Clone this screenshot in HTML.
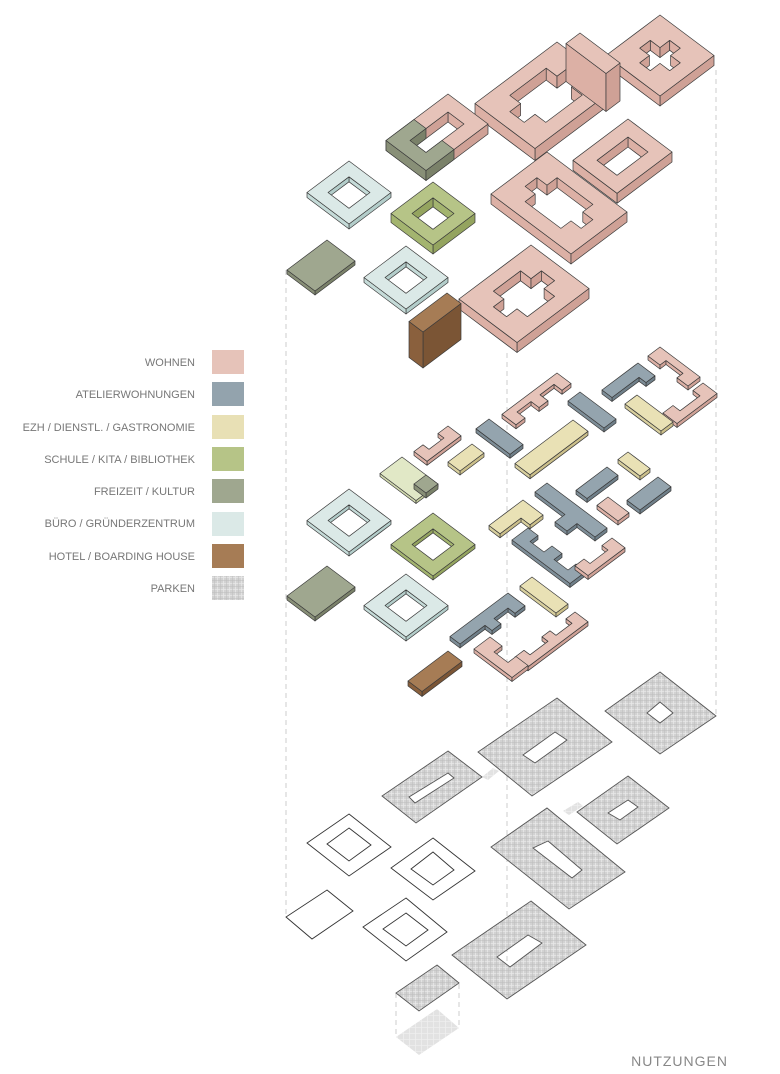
<!DOCTYPE html>
<html><head><meta charset="utf-8"><style>
html,body{margin:0;padding:0;background:#fff;}
svg{display:block;}
text{font-family:"Liberation Sans",sans-serif;}
</style></head><body>
<svg id="s" width="780" height="1074" viewBox="0 0 780 1074" xmlns="http://www.w3.org/2000/svg">
<defs>
<pattern id="pk" width="6" height="6" patternUnits="userSpaceOnUse">
<rect width="6" height="6" fill="#d2d2d2"/>
<path d="M0 1.5H6M1.5 0V6" stroke="#e8e8e8" stroke-width="0.8"/>
<path d="M0 4.5H6M4.5 0V6" stroke="#bdbdbd" stroke-width="0.5"/>
</pattern>
<pattern id="pkl" width="6" height="6" patternUnits="userSpaceOnUse">
<rect width="6" height="6" fill="#e2e2e2"/>
<path d="M0 1.5H6M1.5 0V6" stroke="#efefef" stroke-width="0.8"/>
</pattern>
</defs>
<g stroke="#ccc" stroke-width="1" stroke-dasharray="5,4" fill="none">
<line x1="286" y1="270" x2="286" y2="917"/>
<line x1="507" y1="353" x2="507" y2="1000"/>
<line x1="716" y1="70" x2="716" y2="716"/>
<line x1="396" y1="993" x2="396" y2="1037"/>
<line x1="459" y1="984" x2="459" y2="1028"/>
</g>
<g id="legend" font-size="11" fill="#777" text-anchor="end">
<text x="195" y="366">WOHNEN</text>
<text x="195" y="398">ATELIERWOHNUNGEN</text>
<text x="195" y="431">EZH / DIENSTL. / GASTRONOMIE</text>
<text x="195" y="463">SCHULE / KITA / BIBLIOTHEK</text>
<text x="195" y="495">FREIZEIT / KULTUR</text>
<text x="195" y="527">BÜRO / GRÜNDERZENTRUM</text>
<text x="195" y="560">HOTEL / BOARDING HOUSE</text>
<text x="195" y="592">PARKEN</text>
</g>
<rect x="212" y="350" width="32" height="24" fill="#e6c3b9"/>
<rect x="212" y="382" width="32" height="24" fill="#93a3ad"/>
<rect x="212" y="415" width="32" height="24" fill="#e8e0b5"/>
<rect x="212" y="447" width="32" height="24" fill="#b6c487"/>
<rect x="212" y="479" width="32" height="24" fill="#9fa78f"/>
<rect x="212" y="512" width="32" height="24" fill="#dbe9e7"/>
<rect x="212" y="544" width="32" height="24" fill="#a67c55"/>
<rect x="212" y="576" width="32" height="24" fill="url(#pk)"/>

<!-- parking plates -->
<g stroke="#555" stroke-width="0.9">
<path fill="url(#pk)" fill-rule="evenodd" d="M660 672L716 716L660 754L605 711Z M660 702L673 713L660 723L647 713Z"/>
<path fill="url(#pkl)" stroke="none" d="M482 777L493 768L499 771L488 780Z"/>
<path fill="url(#pkl)" stroke="none" d="M563 811L578 802L583 806L569 815Z"/>
<path fill="url(#pk)" fill-rule="evenodd" d="M557 698L612 742L532 796L478 752Z M555 732L567 740L535 763L523 755Z"/>
<path fill="url(#pk)" fill-rule="evenodd" d="M448 751L482 777L416 823L382 796Z M448 773L454 778L415 803L409 797Z"/>
<path fill="url(#pk)" fill-rule="evenodd" d="M628 776L669 808L617 844L577 812Z M628 800L638 807L620 820L608 813Z"/>
<path fill="url(#pk)" fill-rule="evenodd" d="M547 808L625 872L569 909L491 847Z M548 841L582 870L572 878L533 848Z"/>
<path fill="url(#pk)" fill-rule="evenodd" d="M531 901L586 945L507 999L452 955Z M497 957L528 935L542 943L510 967Z"/>
<path fill="url(#pk)" d="M437 965L459 983L419 1011L396 993Z"/>
<path fill="url(#pkl)" stroke="none" d="M437 1009L459 1028L419 1055L396 1037Z"/>
</g>
<!-- outline footprints -->
<g stroke="#333" stroke-width="0.9" fill="none">
<path d="M349 814L391 847L349 876L307 843Z M349 828L371 845L349 861L327 844Z"/>
<path d="M433 838L475 871L433 900L391 868Z M433 852L454 870L433 885L411 869Z"/>
<path d="M327 890L353 911L312 939L286 917Z"/>
<path d="M406 898L447 932L406 961L363 927Z M406 913L428 930L406 946L383 929Z"/>
</g>
<text x="728" y="1066" font-size="14" fill="#888" text-anchor="end" letter-spacing="1">NUTZUNGEN</text>
</svg>
<script>
(function(){
const S=document.getElementById('s');
const NS='http://www.w3.org/2000/svg';
function el(t,a){const e=document.createElementNS(NS,t);for(const k in a)e.setAttribute(k,a[k]);S.appendChild(e);return e;}
const K=0.75;
function P(x0,y0,p){return [x0+p[0]-p[1], y0+K*(p[0]+p[1])];}
function area(p){let a=0;for(let i=0;i<p.length;i++){const q=p[(i+1)%p.length];a+=p[i][0]*q[1]-q[0]*p[i][1];}return a;}
function rect(U,V){return [[0,0],[U,0],[U,V],[0,V]];}
function pstr(pts){return 'M'+pts.map(p=>p[0].toFixed(1)+' '+p[1].toFixed(1)).join('L')+'Z';}
function prism(x0,y0,outer,holes,h,top,side,side2){
  const quads=[];
  function edges(poly,isHole){
    let s=area(poly)>0?1:-1; if(isHole)s=-s;
    for(let i=0;i<poly.length;i++){
      const a=poly[i],b=poly[(i+1)%poly.length];
      const du=b[0]-a[0],dv=b[1]-a[1];
      const nu=s*dv,nv=-s*du;
      if(nu+nv>0.0001){
        const A=P(x0,y0,a),B=P(x0,y0,b);
        quads.push({d:(a[0]+a[1]+b[0]+b[1])/2,pts:[A,B,[B[0],B[1]+h],[A[0],A[1]+h]],c:(nu>nv?side:side2)});
      }
    }
  }
  edges(outer,false);holes.forEach(hh=>edges(hh,true));
  quads.sort((p,q)=>p.d-q.d);
  quads.forEach(q=>el('path',{d:pstr(q.pts),fill:q.c,stroke:'#3a3a3a','stroke-width':'0.7','stroke-linejoin':'round'}));
  let d=pstr(outer.map(p=>P(x0,y0,p)));
  holes.forEach(hh=>d+=pstr(hh.map(p=>P(x0,y0,p))));
  el('path',{d:d,fill:top,'fill-rule':'evenodd',stroke:'#3a3a3a','stroke-width':'0.7','stroke-linejoin':'round'});
}
const PK=['#e6c3b9','#cfa196','#dcb0a5'];
const BL=['#94a4ae','#6f7f89','#7d8d97'];
const YE=['#e9e1b5','#cbbf8a','#d8cf9e'];
const GR=['#b6c487','#94a45f','#a3b46f'];
const FZ=['#9fa78f','#7a8169','#888f77'];
const BU=['#dbe9e7','#b3cdca','#c5dbd8'];
const HO=['#a67c55','#7b5535','#8a603d'];
const LG=['#e1e8c6','#c3cc9c','#d0d8ae'];
function pr(x,y,poly,h,c,holes){prism(x,y,poly,holes||[],h,c[0],c[1],c[2]);}
function ring(x,y,h,c){pr(x,y,rect(42,42),h,c,[[[10.5,10.5],[31.5,10.5],[31.5,31.5],[10.5,31.5]]]);}
function block(x,y,U,V,h){
  const t=12,c=Math.min(U,V)*0.18;
  const hole=[[t+c,t],[U-t-c,t],[U-t-c,t+c],[U-t,t+c],[U-t,V-t-c],[U-t-c,V-t-c],[U-t-c,V-t],[t+c,V-t],[t+c,V-t-c],[t,V-t-c],[t,t+c],[t+c,t+c]];
  pr(x,y,rect(U,V),h,PK,[hole]);
}
// top section
block(660,15,54,54,10);
block(557,42,60,82,12);
pr(580,33,rect(40,14),38,PK);
pr(448,94,rect(40,62),10,PK,[[[12,12],[28,12],[28,50],[12,50]]]);
pr(448,94,[[0,34],[12,34],[12,50],[28,50],[28,34],[40,34],[40,62],[0,62]],10,FZ);
pr(628,119,rect(44,55),10,PK,[[[12,12],[32,12],[32,43],[12,43]]]);
block(547,152,80,56,10);
ring(349,161,5,BU);
ring(433,182,9,GR);
pr(327,240,rect(28,40),4,FZ);
block(531,245,58,72,10);
ring(406,246,5,BU);
pr(447,293,rect(14,38),36,HO);
// middle section
const mids=[
[448,426,[[0,0],[13,0],[13,34],[0,34],[0,25],[6,25],[6,10],[0,10]],PK],
[472,444,rect(12,24),YE],
[489,419,rect(34,13),BL],
[557,373,[[0,0],[14,0],[14,9],[6,9],[6,23],[14,23],[14,32],[6,32],[6,46],[14,46],[14,55],[0,55]],PK],
[580,392,rect(36,12),BL],
[573,420,rect(15,58),YE],
[638,363,[[0,0],[17,0],[17,9],[10,9],[10,36],[0,36]],BL],
[660,347,[[0,0],[40,0],[40,12],[29,12],[29,6],[12,6],[12,12],[0,12]],PK],
[703,383,[[0,0],[14,0],[14,40],[0,40],[0,30],[7,30],[7,10],[0,10]],PK],
[637,395,rect(36,12),YE],
[628,452,rect(22,10),YE],
[607,467,rect(11,31),BL],
[658,477,rect(13,31),BL],
[608,497,rect(21,11),PK],
[523,500,[[0,0],[20,0],[20,13],[11,13],[11,34],[0,34]],YE],
[547,483,[[0,0],[60,0],[60,12],[42,12],[42,22],[30,22],[30,12],[0,12]],BL],
[528,528,[[0,0],[10,0],[10,8],[24,8],[24,0],[34,0],[34,8],[48,8],[48,0],[58,0],[58,16],[0,16]],BL],
[612,538,[[0,0],[13,0],[13,37],[0,37],[0,28],[6,28],[6,10],[0,10]],PK],
[532,577,rect(36,12),YE],
[508,593,[[0,0],[17,0],[17,10],[10,10],[10,24],[17,24],[17,33],[10,33],[10,58],[0,58]],BL],
[490,637,[[0,0],[12,0],[12,8],[26,8],[26,0],[38,0],[38,16],[0,16]],PK],
[575,612,[[0,0],[13,0],[13,60],[0,60],[0,51],[6,51],[6,33],[0,33],[0,25],[6,25],[6,9],[0,9]],PK]
];
mids.sort((a,b)=>a[1]-b[1]);
// left pieces
ring(349,489,4,BU);
ring(433,513,4,GR);
pr(402,457,rect(36,22),3,LG);
pr(402,457,[[24,0],[36,0],[36,12],[24,12]],5,FZ);
pr(327,566,rect(28,40),4,FZ);
ring(406,574,4,BU);
pr(448,651,rect(14,40),5,HO);
mids.forEach(m=>pr(m[0],m[1],m[2],4,m[3]));
})();
</script>
</body></html>
